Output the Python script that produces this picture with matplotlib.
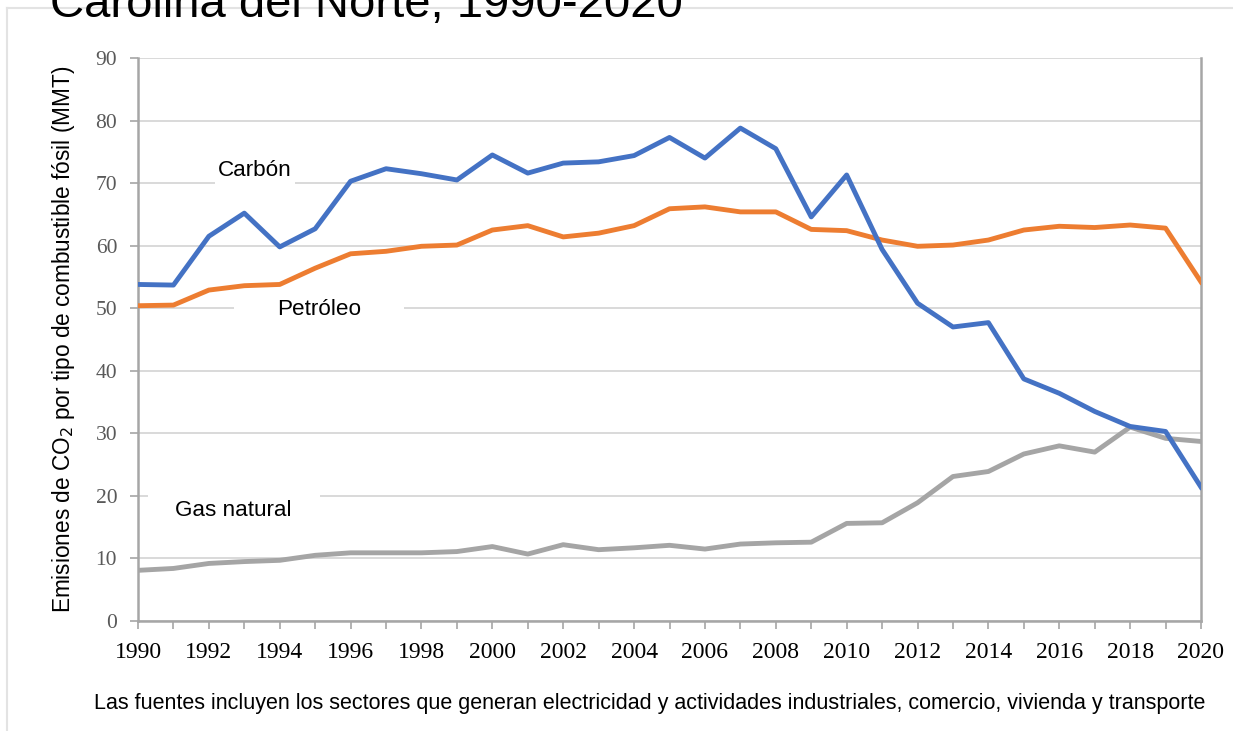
import matplotlib
matplotlib.use("Agg")
import matplotlib.pyplot as plt
from matplotlib.lines import Line2D

years = list(range(1990, 2021))
carbon = [53.8, 53.7, 61.5, 65.2, 59.8, 62.7, 70.3, 72.3, 71.5, 70.5,
          74.5, 71.6, 73.2, 73.4, 74.4, 77.3, 74.0, 78.8, 75.5, 64.6,
          71.3, 59.4, 50.8, 47.0, 47.7, 38.7, 36.4, 33.5, 31.1, 30.3, 21.4]
petroleum = [50.4, 50.5, 52.9, 53.6, 53.8, 56.4, 58.7, 59.1, 59.9, 60.1,
             62.5, 63.2, 61.4, 62.0, 63.2, 65.9, 66.2, 65.4, 65.4, 62.6,
             62.4, 60.9, 59.9, 60.1, 60.9, 62.5, 63.1, 62.9, 63.3, 62.8, 54.2]
gas = [8.1, 8.4, 9.2, 9.5, 9.7, 10.5, 10.9, 10.9, 10.9, 11.1,
       11.9, 10.7, 12.2, 11.4, 11.7, 12.1, 11.5, 12.3, 12.5, 12.6,
       15.6, 15.7, 18.9, 23.1, 23.9, 26.7, 28.0, 27.0, 31.0, 29.2, 28.7]
series_labels = ["Carbón", "Petróleo", "Gas natural"]
yticks = list(range(0, 100, 10))
xtick_labels = list(range(1990, 2021, 2))

sans = "Liberation Sans"
serif = "Liberation Serif"

fig = plt.figure(figsize=(12.33, 7.31), dpi=100)
ax = fig.add_axes([138/1233, 1-621/731, (1201-138)/1233, (621-58)/731])

c_blue, c_orange, c_gray = "#4472C4", "#ED7D31", "#A5A5A5"
ax.plot(years, gas, color=c_gray, lw=3.5, solid_joinstyle="round", zorder=3)
ax.plot(years, petroleum, color=c_orange, lw=3.5, solid_joinstyle="round", zorder=4)
ax.plot(years, carbon, color=c_blue, lw=3.5, solid_joinstyle="round", zorder=5)

ax.set_xlim(1990, 2020)
ax.set_ylim(0, 90)
ax.set_yticks(yticks)
ax.set_yticklabels([str(v) for v in yticks], family=serif, fontsize=15.5, color="#595959")
ax.set_xticks(years)
ax.set_xticklabels([str(y) if y in xtick_labels else "" for y in years],
                   family=serif, fontsize=17, color="#000000")
ax.tick_params(axis="x", length=6, width=1.2, color="#a6a6a6", pad=9, direction="out")
ax.tick_params(axis="y", length=6, width=1.2, color="#a6a6a6", pad=9, direction="out")

ax.grid(axis="y", color="#d9d9d9", lw=1.4, zorder=0)
ax.set_axisbelow(True)
for s in ["left", "right", "bottom"]:
    ax.spines[s].set_color("#a6a6a6")
    ax.spines[s].set_linewidth(1.8)
ax.spines["top"].set_visible(False)

ax.set_ylabel("Emisiones de CO$_2$ por tipo de combustible fósil (MMT)",
              family=sans, fontsize=16.3)
ax.yaxis.set_label_coords(-0.057, 0.5)

ax.text(1993.3, 72.0, series_labels[0], family=sans, fontsize=16.2, ha="center", va="center",
        bbox=dict(facecolor="white", edgecolor="none", pad=2), zorder=2)
ax.text(1995.1, 49.8, series_labels[1], family=sans, fontsize=16.2, ha="center", va="center",
        bbox=dict(facecolor="white", edgecolor="none", pad=31), zorder=2)
ax.text(1992.7, 17.6, series_labels[2], family=sans, fontsize=16.2, ha="center", va="center",
        bbox=dict(facecolor="white", edgecolor="none", pad=20), zorder=2)

fig.text(50/1233, 1-17/731, "Carolina del Norte, 1990-2020", family=sans,
         fontsize=34, ha="left", va="baseline", color="#000000")
fig.text(650/1233, 1-703/731,
         "Las fuentes incluyen los sectores que generan electricidad y actividades industriales, comercio, vivienda y transporte",
         family=sans, fontsize=15.5, ha="center", va="center")

fig.add_artist(Line2D([7/1233, 7/1233], [0, 1-8/731], transform=fig.transFigure,
                      color="#e3e3e3", lw=1.5))
fig.add_artist(Line2D([7/1233, 1], [1-8/731, 1-8/731], transform=fig.transFigure,
                      color="#e3e3e3", lw=1.5, zorder=0))

fig.savefig("out.png", dpi=100)
